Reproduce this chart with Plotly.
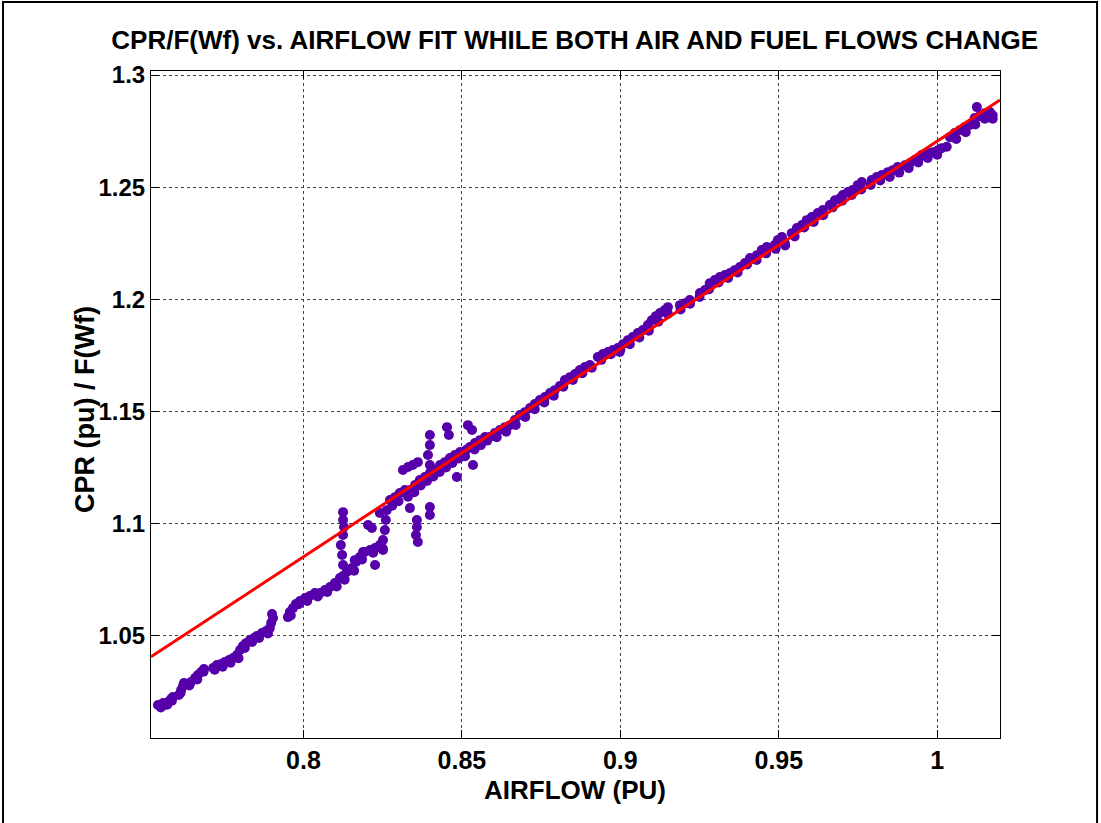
import plotly.graph_objects as go

# Scatter data: AIRFLOW (PU) vs CPR/F(Wf) — centre of the point band
airflow = [
    0.7541, 0.7554, 0.7557, 0.7563, 0.7573, 0.7582, 0.7588,
    0.7607, 0.7614, 0.7620, 0.7623, 0.7636, 0.7645,
    0.7658, 0.7667, 0.7677, 0.7686,
    0.7715, 0.7727, 0.7740, 0.7752, 0.7765, 0.7778,
    0.7790, 0.7800, 0.7809, 0.7819, 0.7831, 0.7844, 0.7853,
    0.7869, 0.7882, 0.7894, 0.7898, 0.7904, 0.7901,
    0.7951, 0.7957, 0.7967, 0.7976, 0.7989, 0.8005, 0.8020, 0.8036,
    0.8052, 0.8068, 0.8084, 0.8099, 0.8115,
    0.8125, 0.8137, 0.8153, 0.8166, 0.8178, 0.8188,
    0.8125, 0.8122, 0.8118, 0.8125, 0.8128, 0.8125, 0.8125,
    0.8162, 0.8194, 0.8210, 0.8226, 0.8241, 0.8251, 0.8226,
    0.8204, 0.8216, 0.8251, 0.8257, 0.8260, 0.8263, 0.8241,
    0.8273, 0.8289, 0.8304, 0.8320,
    0.8314, 0.8330, 0.8345, 0.8361, 0.8336,
    0.8358, 0.8358, 0.8355, 0.8361,
    0.8336, 0.8352, 0.8367, 0.8383, 0.8399,
    0.8399, 0.8399, 0.8393, 0.8399, 0.8399, 0.8399,
    0.8415, 0.8431, 0.8446, 0.8462, 0.8478, 0.8494,
    0.8453, 0.8459, 0.8484, 0.8519, 0.8532,
    0.8500, 0.8513, 0.8525, 0.8541, 0.8557, 0.8573, 0.8535,
    0.8588, 0.8604, 0.8620, 0.8636, 0.8652, 0.8667,
    0.8683, 0.8699, 0.8715, 0.8730, 0.8746, 0.8762,
    0.8778, 0.8793, 0.8809,
    0.8825, 0.8841, 0.8857, 0.8872, 0.8888, 0.8904,
    0.8929, 0.8945, 0.8961, 0.8976, 0.8992, 0.8998,
    0.9008, 0.9024, 0.9039, 0.9055, 0.9071,
    0.9087, 0.9099, 0.9112, 0.9125, 0.9140, 0.9150,
    0.9188, 0.9204, 0.9219, 0.9251, 0.9267,
    0.9282, 0.9298, 0.9314, 0.9330, 0.9346,
    0.9361, 0.9377, 0.9393, 0.9409, 0.9431, 0.9446, 0.9462,
    0.9487, 0.9497, 0.9510, 0.9519,
    0.9541, 0.9557, 0.9573, 0.9588, 0.9604,
    0.9623, 0.9639, 0.9661, 0.9677, 0.9693, 0.9702,
    0.9718, 0.9733, 0.9749, 0.9762,
    0.9793, 0.9809, 0.9825, 0.9844, 0.9860, 0.9875,
    0.9898, 0.9913, 0.9929, 0.9945,
    0.9951, 0.9970, 0.9986, 1.0002, 1.0014,
    1.0040, 1.0055, 1.0071, 1.0087, 1.0103,
    1.0118, 1.0134, 1.0150, 1.0166, 1.0175, 1.0125,
]
cpr_ratio = [
    1.0191, 1.0187, 1.0200, 1.0196, 1.0204, 1.0218, 1.0227,
    1.0236, 1.0258, 1.0276, 1.0289, 1.0285, 1.0294,
    1.0311, 1.0325, 1.0338, 1.0352,
    1.0356, 1.0369, 1.0374, 1.0383, 1.0392, 1.0401,
    1.0414, 1.0436, 1.0454, 1.0467, 1.0481, 1.0490, 1.0499,
    1.0512, 1.0521, 1.0534, 1.0557, 1.0579, 1.0597,
    1.0583, 1.0606, 1.0623, 1.0641, 1.0655, 1.0668, 1.0677, 1.0690,
    1.0690, 1.0704, 1.0717, 1.0735, 1.0757,
    1.0766, 1.0784, 1.0802, 1.0829, 1.0851, 1.0873,
    1.0815, 1.0860, 1.0904, 1.0949, 1.0985, 1.1016, 1.1051,
    1.0837, 1.0873, 1.0882, 1.0891, 1.0904, 1.0882, 1.0815,
    1.0994, 1.0980, 1.0927, 1.0971, 1.1016, 1.1060, 1.1047,
    1.1105, 1.1118, 1.1136, 1.1150,
    1.1239, 1.1252, 1.1261, 1.1274, 1.1069,
    1.1016, 1.0985, 1.0949, 1.0918,
    1.1150, 1.1172, 1.1194, 1.1208, 1.1225,
    1.1395, 1.1350, 1.1306, 1.1261, 1.1074, 1.1038,
    1.1239, 1.1261, 1.1274, 1.1292, 1.1306, 1.1319,
    1.1430, 1.1395, 1.1208, 1.1439, 1.1417,
    1.1306, 1.1328, 1.1341, 1.1359, 1.1372, 1.1386, 1.1261,
    1.1386, 1.1404, 1.1417, 1.1430, 1.1439, 1.1462,
    1.1484, 1.1497, 1.1515, 1.1533, 1.1551, 1.1564,
    1.1582, 1.1595, 1.1613,
    1.1640, 1.1653, 1.1667, 1.1685, 1.1698, 1.1707,
    1.1743, 1.1756, 1.1765, 1.1774, 1.1783, 1.1765,
    1.1800, 1.1818, 1.1832, 1.1850, 1.1863,
    1.1885, 1.1907, 1.1925, 1.1939, 1.1952, 1.1965,
    1.1974, 1.1983, 1.1997, 1.2028, 1.2041,
    1.2072, 1.2086, 1.2099, 1.2108, 1.2117,
    1.2130, 1.2144, 1.2162, 1.2184, 1.2197, 1.2220, 1.2233,
    1.2242, 1.2264, 1.2278, 1.2251,
    1.2295, 1.2318, 1.2331, 1.2353, 1.2367,
    1.2385, 1.2398, 1.2420, 1.2442, 1.2451, 1.2465,
    1.2478, 1.2487, 1.2509, 1.2523,
    1.2532, 1.2545, 1.2554, 1.2567, 1.2576, 1.2590,
    1.2598, 1.2607, 1.2621, 1.2634,
    1.2643, 1.2652, 1.2656, 1.2665, 1.2674,
    1.2723, 1.2741, 1.2754, 1.2768, 1.2777,
    1.2808, 1.2817, 1.2830, 1.2835, 1.2821, 1.2857,
]

# Lower edge of the point band (read separately)
airflow_low = [
    0.7550, 0.7570, 0.7585, 0.7612, 0.7640, 0.7665, 0.7685,
    0.7720, 0.7745, 0.7770, 0.7795, 0.7815, 0.7838, 0.7860, 0.7888,
    0.7960, 0.7985, 0.8012, 0.8045, 0.8075, 0.8105, 0.8130, 0.8160,
    0.8185, 0.8220, 0.8250,
    0.8280, 0.8300, 0.8330, 0.8350, 0.8370, 0.8390, 0.8410, 0.8430,
    0.8450, 0.8470, 0.8490, 0.8510, 0.8540, 0.8560, 0.8580,
    0.8610, 0.8640, 0.8670, 0.8700, 0.8730, 0.8760, 0.8790, 0.8820,
    0.8850, 0.8880, 0.8910, 0.8940, 0.8970, 0.9000, 0.9030, 0.9060,
    0.9090, 0.9120, 0.9150, 0.9190, 0.9220, 0.9250, 0.9280, 0.9310,
    0.9340, 0.9370, 0.9400, 0.9430, 0.9460, 0.9490, 0.9520, 0.9550,
    0.9580, 0.9610, 0.9640, 0.9670, 0.9700, 0.9730, 0.9760, 0.9790,
    0.9820, 0.9850, 0.9880, 0.9910, 0.9940, 0.9970, 1.0000, 1.0030,
    1.0060, 1.0090, 1.0120, 1.0150, 1.0175,
]
cpr_low = [
    1.0180, 1.0192, 1.0210, 1.0245, 1.0278, 1.0305, 1.0340,
    1.0348, 1.0362, 1.0380, 1.0400, 1.0445, 1.0472, 1.0490, 1.0510,
    1.0590, 1.0640, 1.0655, 1.0675, 1.0695, 1.0720, 1.0750, 1.0790,
    1.0840, 1.0870, 1.0890,
    1.1080, 1.1100, 1.1120, 1.1140, 1.1170, 1.1190, 1.1210, 1.1230,
    1.1250, 1.1270, 1.1290, 1.1300, 1.1330, 1.1350, 1.1370,
    1.1385, 1.1410, 1.1440, 1.1475, 1.1510, 1.1540, 1.1570, 1.1610,
    1.1640, 1.1670, 1.1695, 1.1730, 1.1755, 1.1775, 1.1800, 1.1830,
    1.1860, 1.1900, 1.1935, 1.1955, 1.1980, 1.2010, 1.2045, 1.2075,
    1.2095, 1.2120, 1.2155, 1.2175, 1.2205, 1.2225, 1.2240, 1.2280,
    1.2320, 1.2345, 1.2375, 1.2410, 1.2440, 1.2465, 1.2490, 1.2510,
    1.2530, 1.2545, 1.2565, 1.2585, 1.2610, 1.2630, 1.2645, 1.2680,
    1.2715, 1.2745, 1.2780, 1.2805, 1.2805,
]

# Linear fit line endpoints
fit_x = [0.7519, 1.0198]
fit_y = [1.0406, 1.2889]

x_ticks = [0.8, 0.85, 0.9, 0.95, 1.0]
x_tick_text = ["0.8", "0.85", "0.9", "0.95", "1"]
y_ticks = [1.05, 1.1, 1.15, 1.2, 1.25, 1.3]
y_tick_text = ["1.05", "1.1", "1.15", "1.2", "1.25", "1.3"]

x_range = [0.7519, 1.0198]
y_range = [1.0044, 1.3018]

FONT = "Liberation Sans"
PURPLE = "#5500aa"

fig = go.Figure()
for xs, ys in ((airflow_low, cpr_low), (airflow, cpr_ratio)):
    fig.add_trace(go.Scatter(
        x=xs, y=ys, mode="markers",
        marker=dict(color=PURPLE, size=10, line=dict(width=0)),
        showlegend=False, cliponaxis=True,
    ))
fig.add_trace(go.Scatter(
    x=fit_x, y=fit_y, mode="lines",
    line=dict(color="#ff0000", width=3),
    showlegend=False,
))

def axis_common(size):
    return dict(
        showline=True, linecolor="black", linewidth=1, mirror="ticks",
        ticks="inside", ticklen=8, tickcolor="black", tickwidth=1,
        showgrid=True, gridcolor="#444444", gridwidth=1, griddash="dot",
        zeroline=False,
        tickfont=dict(family=FONT, size=size, color="black", weight="bold"),
    )

fig.update_layout(
    width=1101, height=823,
    margin=dict(l=151, r=101, t=71, b=85),
    paper_bgcolor="white", plot_bgcolor="white",
    title=dict(
        text="CPR/F(Wf) vs. AIRFLOW FIT WHILE BOTH AIR AND FUEL FLOWS CHANGE",
        x=0.522, xanchor="center", y=0.951, yanchor="middle",
        font=dict(family=FONT, size=26, color="black", weight="bold"),
    ),
    xaxis=dict(range=x_range, tickvals=x_ticks, ticktext=x_tick_text, **axis_common(25)),
    yaxis=dict(range=y_range, tickvals=y_ticks, ticktext=y_tick_text, **axis_common(24)),
    annotations=[
        dict(text="AIRFLOW (PU)", xref="paper", yref="paper", x=0.4994, y=-0.078,
             xanchor="center", yanchor="middle", showarrow=False,
             font=dict(family=FONT, size=26, color="black", weight="bold")),
        dict(text="CPR (pu) / F(Wf)", xref="paper", yref="paper", x=-0.0777, y=0.4918,
             xanchor="center", yanchor="middle", showarrow=False, textangle=-90,
             font=dict(family=FONT, size=27, color="black", weight="bold")),
    ],
    shapes=[
        dict(type="rect", xref="paper", yref="paper",
             x0=-0.1743, x1=1.1143, y0=-0.2, y1=1.1034,
             line=dict(color="black", width=2), layer="below"),
    ],
)

fig.write_html("out.html")
